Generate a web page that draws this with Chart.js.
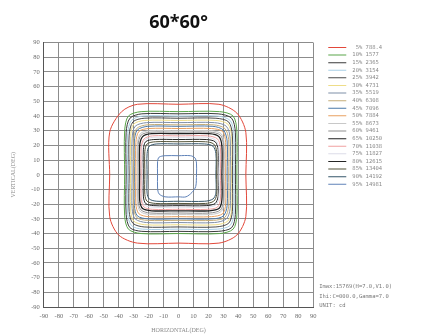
<!DOCTYPE html>
<html>
<head>
<meta charset="utf-8">
<script src="https://cdn.jsdelivr.net/npm/chart.js@4.4.1/dist/chart.umd.min.js"></script>
<style>
  html, body { margin: 0; padding: 0; background: #fff; }
  canvas { display: block; }
</style>
</head>
<body>
<canvas id="chart" width="421" height="336"></canvas>
<script>
// iso-candela levels (percent of Imax) and their values in cd
const levels = [5, 10, 15, 20, 25, 30, 35, 40, 45, 50, 55, 60, 65, 70, 75, 80, 85, 90, 95];
const levelValues = ["788.4", "1577", "2365", "3154", "3942", "4731", "5519", "6308", "7096", "7884",
  "8673", "9461", "10250", "11038", "11827", "12615", "13404", "14192", "14981"];

const axisTicks = [-90, -80, -70, -60, -50, -40, -30, -20, -10, 0, 10, 20, 30, 40, 50, 60, 70, 80, 90];

// contour outlines, [horizontal deg, vertical deg]
const c05 = [[0,48],[27,48],[39,42],[45,29],[45,0],[45,-28.5],[39,-41],[27,-46.5],[0,-46.5],[-27.5,-46.5],[-40,-41],[-46,-28.5],[-46,0],[-46,29],[-38,43],[-27.5,48],[0,48]];
const c10 = [[0,43],[27.5,43],[36.5,40],[39,30],[39,0],[39,-28],[36.5,-37],[27.5,-40],[0,-40],[-25,-40],[-33.5,-37],[-36,-28],[-36,0],[-36,30],[-33.5,40],[-25,43],[0,43]];
const c15 = [[0,41.5],[26.5,41.5],[35.5,38.5],[38,29],[38,0],[38,-27],[35.5,-36],[26.5,-38.5],[0,-38.5],[-24.5,-38.5],[-32.5,-36],[-35,-27],[-35,0],[-35,29],[-32.5,38.5],[-24.5,41.5],[0,41.5]];
const c20 = [[0,40],[26,40],[34.5,37],[37,28],[37,0],[37,-26],[34.5,-34.5],[26,-37],[0,-37],[-24,-37],[-31.5,-34.5],[-34,-26],[-34,0],[-34,28],[-31.5,37],[-24,40],[0,40]];
const c25 = [[0,38.5],[25,38.5],[33.5,36],[36,27],[36,0],[36,-25],[33.5,-33],[25,-35.5],[0,-35.5],[-23,-35.5],[-30.5,-33],[-33,-25],[-33,0],[-33,27],[-30.5,36],[-23,38.5],[0,38.5]];
const c30 = [[0,37],[25,37],[33,34.5],[35.5,26],[35.5,0],[35.5,-24],[33,-31.5],[25,-34],[0,-34],[-22.5,-34],[-30,-31.5],[-32,-24],[-32,0],[-32,26],[-30,34.5],[-22.5,37],[0,37]];
const c35 = [[0,35.5],[24,35.5],[32,33],[34.5,25],[34.5,0],[34.5,-23],[32,-30],[24,-32.5],[0,-32.5],[-21.5,-32.5],[-29,-30],[-31,-23],[-31,0],[-31,25],[-29,33],[-21.5,35.5],[0,35.5]];
const c40 = [[0,34],[23.5,34],[31,31.5],[33.5,24],[33.5,0],[33.5,-21.5],[31,-29],[23.5,-31],[0,-31],[-21,-31],[-28,-29],[-30,-21.5],[-30,0],[-30,24],[-28,31.5],[-21,34],[0,34]];
const c45 = [[0,33],[23,33],[30,30.5],[32.5,23],[32.5,0],[32.5,-21],[30,-28],[23,-30],[0,-30],[-20.5,-30],[-27.5,-28],[-29.5,-21],[-29.5,0],[-29.5,23],[-27.5,30.5],[-20.5,33],[0,33]];
const c50 = [[0,31.5],[22,31.5],[29.5,29.5],[31.5,22],[31.5,0],[31.5,-20],[29.5,-26.5],[22,-28.5],[0,-28.5],[-20,-28.5],[-26.5,-26.5],[-28.5,-20],[-28.5,0],[-28.5,22],[-26.5,29.5],[-20,31.5],[0,31.5]];
const c55 = [[0,30],[21.5,30],[28.5,28],[30.5,21],[30.5,0],[30.5,-19],[28.5,-25],[21.5,-27],[0,-27],[-19.5,-27],[-25.5,-25],[-27.5,-19],[-27.5,0],[-27.5,21],[-25.5,28],[-19.5,30],[0,30]];
const c60 = [[0,29],[21,29],[28,27],[30,20.5],[30,0],[30,-18],[28,-24],[21,-26],[0,-26],[-19,-26],[-25,-24],[-27,-18],[-27,0],[-27,20.5],[-25,27],[-19,29],[0,29]];
const c65 = [[0,28],[20.5,28],[27,26],[29,19.5],[29,0],[29,-17],[27,-23],[20.5,-24.5],[0,-24.5],[-18,-24.5],[-24,-23],[-26,-17],[-26,0],[-26,19.5],[-24,26],[-18,28],[0,28]];
const c70 = [[0,26.5],[19.5,26.5],[26,24.5],[28,18.5],[28,0],[28,-16.5],[26,-22],[19.5,-23.5],[0,-23.5],[-17.5,-23.5],[-23,-22],[-25,-16.5],[-25,0],[-25,18.5],[-23,24.5],[-17.5,26.5],[0,26.5]];
const c75 = [[0,25.5],[19,25.5],[25,23.5],[27,18],[27,0],[27,-15.5],[25,-20.5],[19,-22],[0,-22],[-17,-22],[-23,-20.5],[-24.5,-15.5],[-24.5,0],[-24.5,18],[-23,23.5],[-17,25.5],[0,25.5]];
const c80 = [[0,24],[18.5,24],[24.5,22.5],[26.5,17],[26.5,0],[26.5,-14.5],[24.5,-19.5],[18.5,-21],[0,-21],[-16.5,-21],[-22,-19.5],[-23.5,-14.5],[-23.5,0],[-23.5,17],[-22,22.5],[-16.5,24],[0,24]];
const c85 = [[0,22.5],[18,22.5],[23.5,21],[25.5,16],[25.5,0],[25.5,-13.5],[23.5,-18],[18,-19.5],[0,-19.5],[-15.5,-19.5],[-21,-18],[-22.5,-13.5],[-22.5,0],[-22.5,16],[-21,21],[-15.5,22.5],[0,22.5]];
const c90 = [[0,21],[17.5,21],[23,19.5],[25,14.5],[25,0],[25,-12.5],[23,-16.5],[17.5,-18],[0,-18],[-14.5,-18],[-19.5,-16.5],[-21,-12.5],[-21,0],[-21,14.5],[-19.5,19.5],[-14.5,21],[0,21]];
const c95 = [[0,13],[8,13],[11,11.5],[12,8],[12,0],[11.5,-8],[9,-12],[5,-15],[0,-15],[-9,-15],[-13,-13],[-14,-9],[-14,0],[-14,9],[-13,12],[-9,13],[0,13]];
const contours = [c05, c10, c15, c20, c25, c30, c35, c40, c45, c50, c55, c60, c65, c70, c75, c80, c85, c90, c95];

const noteLines = ["Imax:15769(H=7.0,V1.0)", "Ihi:C=000.0,Gamma=7.0", "UNIT: cd"];

const lineColors = ["#e2483a", "#5aa64a", "#3a3a3a", "#a9cfe6", "#4a4a4a", "#eedd88", "#7f8fa8",
  "#c4ac78", "#4a78a8", "#e8a060", "#c8c8c8", "#8f8f8f", "#1f1f1f", "#f0a0a0", "#dcdce8",
  "#262626", "#55553a", "#35566a", "#5f82b8"];

function pad(s, n) {
  return " ".repeat(Math.max(0, n - s.length)) + s;
}

const datasets = contours.map((pts, i) => ({
  label: " " + pad(levels[i] + "%", 3) + " " + levelValues[i],
  data: pts.map(([x, y]) => ({ x, y })),
  showLine: true,
  borderColor: lineColors[i],
  backgroundColor: lineColors[i],
  borderWidth: i === 12 ? 1.3 : 1,
  pointRadius: 0,
  tension: 0.3,
  fill: false,
}));

const tickFont = { family: "Liberation Serif", size: 6.5 };

const notesPlugin = {
  id: "notes",
  afterDraw(chart) {
    const { ctx, chartArea } = chart;
    ctx.save();
    ctx.font = "5.5px 'DejaVu Sans Mono'";
    ctx.fillStyle = "#7a7a7a";
    ctx.textBaseline = "middle";
    noteLines.forEach((t, i) => ctx.fillText(t, chartArea.right + 6, 287 + i * 9.5));
    ctx.restore();
  },
};

new Chart(document.getElementById("chart"), {
  type: "scatter",
  data: { datasets },
  plugins: [notesPlugin],
  options: {
    responsive: false,
    animation: false,
    devicePixelRatio: 1,
    layout: { padding: { left: 7, right: 31, top: 0, bottom: 2 } },
    scales: {
      x: {
        type: "linear",
        min: -90,
        max: 90,
        afterBuildTicks: (s) => { s.ticks = axisTicks.map((v) => ({ value: v })); },
        ticks: { font: tickFont, color: "#6a6a6a", padding: 5, autoSkip: false, maxRotation: 0 },
        grid: { color: "#8c8c8c", lineWidth: 1, drawTicks: false },
        border: { color: "#555" },
        title: { display: true, text: "HORIZONTAL(DEG)", font: { family: "Liberation Serif", size: 6 }, color: "#8a8a8a", padding: { top: 2, bottom: 0 } },
      },
      y: {
        type: "linear",
        min: -90,
        max: 90,
        afterBuildTicks: (s) => { s.ticks = axisTicks.map((v) => ({ value: v })); },
        ticks: { font: tickFont, color: "#6a6a6a", padding: 4, autoSkip: false },
        grid: { color: "#8c8c8c", lineWidth: 1, drawTicks: false },
        border: { color: "#555" },
        title: { display: true, text: "VERTICAL(DEG)", font: { family: "Liberation Serif", size: 6 }, color: "#8a8a8a", padding: { top: 2.5, bottom: 10.5 } },
      },
      gap: {
        type: "linear",
        position: "right",
        display: true,
        grid: { display: false },
        border: { display: false },
        ticks: { display: false },
        afterFit: (s) => { s.width = 13; },
      },
    },
    plugins: {
      title: {
        display: true,
        text: "60*60°",
        fullSize: false,
        font: { family: "Open Sans", size: 18, weight: "bold" },
        color: "#111",
        padding: { top: 12, bottom: 9 },
      },
      legend: {
        display: true,
        position: "right",
        align: "start",
        fullSize: false,
        labels: {
          font: { family: "DejaVu Sans Mono", size: 5.5 },
          color: "#8a8a8a",
          boxWidth: 18,
          boxHeight: 1,
          padding: 2.1,
          generateLabels: (chart) => chart.data.datasets.map((ds, i) => ({
            text: ds.label,
            fillStyle: ds.borderColor,
            strokeStyle: ds.borderColor,
            fontColor: "#8a8a8a",
            lineWidth: 0,
            hidden: false,
            datasetIndex: i,
          })),
        },
      },
      tooltip: { enabled: false },
    },
  },
});
</script>
</body>
</html>
